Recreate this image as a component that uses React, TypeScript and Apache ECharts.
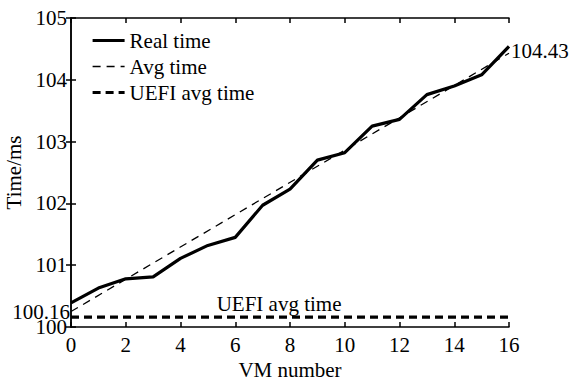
import React, { useEffect, useRef } from "react";
import * as echarts from "echarts";

const vmNumbers = [0, 1, 2, 3, 4, 5, 6, 7, 8, 9, 10, 11, 12, 13, 14, 15, 16];
const realTime = [100.39, 100.63, 100.78, 100.81, 101.11, 101.32, 101.45, 101.97, 102.23, 102.7, 102.82, 103.25, 103.36, 103.76, 103.9, 104.08, 104.54];
const avgX = [0, 16];
const avgTime = [100.25, 104.43];
const uefiX = [0, 16];
const uefiAvg = [100.16, 100.16];
const uefiLabelX = 7.6;
const yTicks = [100, 101, 102, 103, 104, 105];
const xTicks = [0, 2, 4, 6, 8, 10, 12, 14, 16];

const FONT = "Liberation Serif";

export default function App() {
  const ref = useRef<HTMLDivElement>(null);
  useEffect(() => {
    if (!ref.current) return;
    const chart = echarts.init(ref.current, null, { renderer: "svg" });
    const axisLine = { show: true, lineStyle: { color: "#000", width: 1.5 } };
    const tick = { show: true, inside: true, length: 5, lineStyle: { color: "#000", width: 1.5 } };
    const txt = { fontFamily: FONT, fontSize: 21, color: "#000" };
    chart.setOption({
      animation: false,
      backgroundColor: "#fff",
      grid: { left: 71, top: 18, right: 61, bottom: 55, show: false, outerBoundsMode: "none", containLabel: false },
      legend: {
        left: 86,
        top: 25,
        orient: "vertical",
        itemWidth: 32,
        itemHeight: 14,
        itemGap: 5,
        textStyle: { ...txt },
        itemStyle: { opacity: 0 },
        data: [
          { name: "Real time", lineStyle: { width: 3.2, type: "solid", color: "#000" } },
          { name: "Avg time", lineStyle: { width: 1.3, type: [8, 6], color: "#000" } },
          { name: "UEFI avg time", lineStyle: { width: 3.2, type: [8, 5], color: "#000" } },
        ],
      },
      xAxis: [
        {
          type: "value",
          min: xTicks[0],
          max: xTicks[xTicks.length - 1],
          interval: 2,
          position: "bottom",
          name: "VM number",
          nameLocation: "middle",
          nameGap: 30,
          nameTextStyle: { ...txt },
          axisLine,
          axisTick: tick,
          splitLine: { show: false },
          axisLabel: { ...txt, margin: 7 },
        },
        {
          type: "value",
          min: xTicks[0],
          max: xTicks[xTicks.length - 1],
          interval: 2,
          position: "top",
          axisLine,
          axisTick: tick,
          splitLine: { show: false },
          axisLabel: { show: false },
        },
      ],
      yAxis: [
        {
          type: "value",
          min: yTicks[0],
          max: yTicks[yTicks.length - 1],
          interval: 1,
          position: "left",
          name: "Time/ms",
          nameLocation: "middle",
          nameGap: 46,
          nameRotate: 90,
          nameTextStyle: { ...txt },
          axisLine,
          axisTick: tick,
          splitLine: { show: false },
          axisLabel: { ...txt, margin: 4 },
        },
        {
          type: "value",
          min: yTicks[0],
          max: yTicks[yTicks.length - 1],
          interval: 1,
          position: "right",
          axisLine,
          axisTick: tick,
          splitLine: { show: false },
          axisLabel: { show: false },
        },
      ],
      series: [
        {
          name: "Real time",
          type: "line",
          showSymbol: false,
          symbol: "none",
          data: vmNumbers.map((x, i) => [x, realTime[i]]),
          lineStyle: { color: "#000", width: 3.2 },
          itemStyle: { color: "#000" },
        },
        {
          name: "Avg time",
          type: "line",
          showSymbol: false,
          symbol: "none",
          data: avgX.map((x, i) => [x, avgTime[i]]),
          lineStyle: { color: "#000", width: 1.3, type: [8, 6] },
          itemStyle: { color: "#000" },
          endLabel: {
            show: true,
            formatter: () => avgTime[avgTime.length - 1].toFixed(2),
            ...txt,
            distance: 2,
            offset: [0, -2],
          },
        },
        {
          name: "UEFI avg time",
          type: "line",
          showSymbol: false,
          symbol: "none",
          data: uefiX.map((x, i) => [x, uefiAvg[i]]),
          lineStyle: { color: "#000", width: 3.2, type: [8, 5] },
          itemStyle: { color: "#000" },
          markPoint: {
            silent: true,
            symbol: "circle",
            symbolSize: 0,
            itemStyle: { color: "rgba(0,0,0,0)" },
            data: [
              {
                coord: [uefiLabelX, uefiAvg[0]],
                label: { show: true, position: "top", formatter: "UEFI avg time", ...txt, distance: 3 },
              },
              {
                coord: [uefiX[0], uefiAvg[0]],
                label: { show: true, position: "left", formatter: uefiAvg[0].toFixed(2), ...txt, distance: 1, offset: [0, -5] },
              },
            ],
          },
        },
      ],
    });
    return () => chart.dispose();
  }, []);
  return (
    <div
      ref={ref}
      style={{ width: 570, height: 382, position: "fixed", left: 0, top: 0 }}
    />
  );
}
